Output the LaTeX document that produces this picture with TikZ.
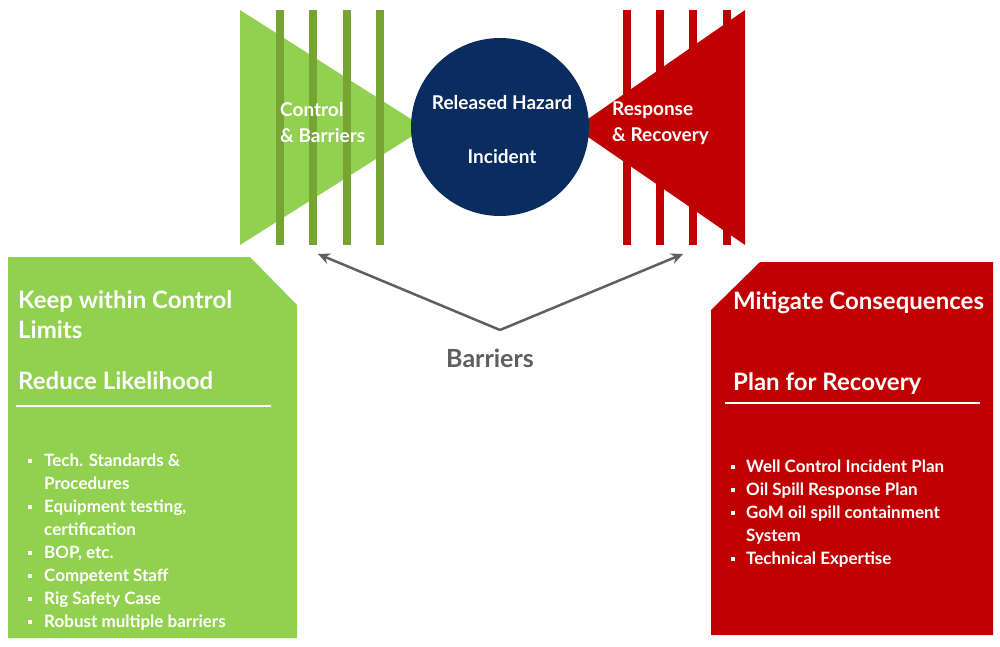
\documentclass[tikz,border=0pt]{standalone}
\usepackage{fontspec}
\setmainfont{Lato}
\usetikzlibrary{arrows.meta}
\definecolor{lgreen}{HTML}{92D050}
\definecolor{dgreen}{HTML}{77A534}
\definecolor{bred}{HTML}{C00000}
\definecolor{navy}{HTML}{0B2C5F}
\definecolor{grayline}{HTML}{5F5F5F}
\tikzset{
  wtext/.style={text=white, font=\bfseries, inner sep=0pt},
  bar/.style={line width=8pt},
  item/.style={wtext, anchor=base west, font=\bfseries\fontsize{17}{18}\selectfont},
  head/.style={wtext, anchor=base west, font=\bfseries\fontsize{24}{26}\selectfont},
  dot/.style={fill=white, minimum size=4.5pt, inner sep=0pt}
}
\begin{document}
\begin{tikzpicture}[x=1pt, y=-1pt]
    \useasboundingbox (0,0) rectangle (1000,646);

    %Control side: green triangle and bars
    \fill[lgreen] (240,10) -- (425,128) -- (240,245) -- cycle;
    \foreach \bx in {280,313,347,380}
        \draw[bar, dgreen] (\bx,10) -- (\bx,245);

    %Recovery side: red triangle and bars
    \fill[bred] (745,10) -- (575,128) -- (745,245) -- cycle;
    \foreach \bx in {627,660,693,727}
        \draw[bar, bred] (\bx,10) -- (\bx,245);

    %Incident circle
    \node[circle, fill=navy, minimum size=178pt, inner sep=0pt] (incident) at (500,127) {};
    \node[wtext, font=\bfseries\fontsize{19}{20}\selectfont] (hazard) at (502,103) {Released Hazard};
    \node[wtext, font=\bfseries\fontsize{19}{20}\selectfont] (inc) at (502,157) {Incident};

    %side labels
    \node[wtext, anchor=west, align=left, font=\bfseries\fontsize{19}{26}\selectfont] (control) at (280,123) {Control\\\& Barriers};
    \node[wtext, anchor=west, align=left, font=\bfseries\fontsize{19}{26}\selectfont] (response) at (612,123) {Response\\\& Recovery};

    %Barriers label and arrows
    \node[text=grayline, font=\bfseries\fontsize{25}{26}\selectfont] (barriers) at (490,358) {Barriers};
    \coordinate (fork) at (500,330);
    \coordinate (lbar) at (318,254);
    \coordinate (rbar) at (683,254);
    \draw[grayline, line width=2.5pt, -{Stealth[length=12pt,width=11pt]}] (fork) -- (lbar);
    \draw[grayline, line width=2.5pt, -{Stealth[length=12pt,width=11pt]}] (fork) -- (rbar);

    %Left box
    \fill[lgreen] (8,257) -- (250,257) -- (297,305) -- (297,638) -- (8,638) -- cycle;
    \node[head] (keep) at (18,308) {Keep within Control};
    \node[head] (limits) at (18,338) {Limits};
    \node[head] (reduce) at (18,389) {Reduce Likelihood};
    \draw[white, line width=1.8pt] (16,406) -- (271,406);
    \foreach \ty/\txt in {466/Tech. Standards \&, 489/Procedures, 512/Equipment testing{,}, 535/certification, 558/{BOP, etc.}, 581/Competent Staff, 604/Rig Safety Case, 627/Robust multiple barriers}
        \node[item] at (44,\ty) {\txt};
    \foreach \ty in {461,507,553,576,599,622}
        \node[dot] at (30,\ty) {};

    %Right box
    \fill[bred] (760,262) -- (993,262) -- (993,635) -- (711,635) -- (711,310) -- cycle;
    \node[head] (mitigate) at (733,309) {Mitigate Consequences};
    \node[head] (plan) at (733,390) {Plan for Recovery};
    \draw[white, line width=1.8pt] (725,403) -- (980,403);
    \foreach \ty/\txt in {472/Well Control Incident Plan, 495/Oil Spill Response Plan, 518/GoM oil spill containment, 541/System, 564/Technical Expertise}
        \node[item] at (746,\ty) {\txt};
    \foreach \ty in {467,490,513,559}
        \node[dot] at (733,\ty) {};

\end{tikzpicture}
\end{document}
